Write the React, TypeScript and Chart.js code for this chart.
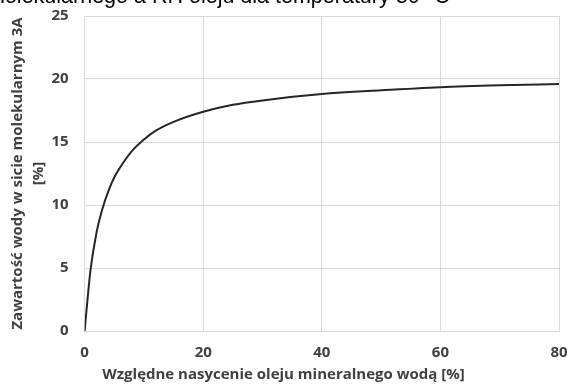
import React, { useEffect, useRef } from 'react';
import { Chart, registerables } from 'chart.js';

Chart.register(...registerables);

// Relative saturation of mineral oil with water [%]
const saturation = [0, 0.5, 1, 2, 3, 4, 5, 6, 8, 10, 12, 15, 20, 25, 30, 40, 50, 60, 70, 80];
// Water content in 3A molecular sieve [%]
const waterContent = [0, 2.6, 4.9, 7.8, 9.7, 11.1, 12.2, 13.0, 14.3, 15.2, 15.9, 16.6, 17.4, 17.95, 18.3, 18.8, 19.1, 19.35, 19.5, 19.6];
const xTicks = [0, 20, 40, 60, 80];
const yTicks = [0, 5, 10, 15, 20, 25];

const chartTitle = 'molekularnego a RH oleju dla temperatury 30 °C';
const xTitle = 'Względne nasycenie oleju mineralnego wodą [%]';
const yTitle = ['Zawartość wody w sicie molekularnym 3A', '[%]'];

const FONT = '"Open Sans", Lato, sans-serif';
const TEXT = '#404040';

export default function App() {
  const ref = useRef<HTMLCanvasElement | null>(null);

  useEffect(() => {
    if (!ref.current) return;
    const chart = new Chart(ref.current, {
      type: 'line',
      data: {
        datasets: [
          {
            data: saturation.map((x, i) => ({ x, y: waterContent[i] })),
            borderColor: '#262626',
            borderWidth: 2,
            pointRadius: 0,
            cubicInterpolationMode: 'monotone',
            fill: false,
          },
        ],
      },
      options: {
        animation: false,
        responsive: false,
        maintainAspectRatio: false,
        layout: { padding: { left: 8, right: 12, top: 16, bottom: 0 } },
        plugins: {
          legend: { display: false },
          tooltip: { enabled: false },
          title: {
            display: true,
            position: 'bottom',
            text: xTitle,
            color: TEXT,
            font: { family: FONT, size: 15, weight: 'bold', lineHeight: 1.2 },
            padding: { top: -9, bottom: 1 },
          },
        },
        scales: {
          x: {
            type: 'linear',
            min: 0,
            max: 80,
            afterBuildTicks: (axis: any) => {
              axis.ticks = xTicks.map((v) => ({ value: v }));
            },
            afterFit: (axis: any) => {
              axis.paddingLeft = 0;
              axis.paddingRight = 0;
            },
            grid: { color: '#d9d9d9', lineWidth: 1, drawTicks: false },
            border: { color: '#d9d9d9' },
            ticks: {
              color: TEXT,
              padding: 13,
              maxRotation: 0,
              font: { family: FONT, size: 15, weight: 'bold', lineHeight: 1.2 },
            },
          },
          y: {
            type: 'linear',
            min: 0,
            max: 25,
            afterBuildTicks: (axis: any) => {
              axis.ticks = yTicks.map((v) => ({ value: v }));
            },
            afterFit: (axis: any) => {
              axis.paddingTop = 0;
              axis.paddingBottom = 0;
            },
            grid: { color: '#d9d9d9', lineWidth: 1, drawTicks: false },
            border: { color: '#d9d9d9' },
            ticks: {
              color: TEXT,
              padding: 16,
              font: { family: FONT, size: 15, weight: 'bold', lineHeight: 1.2 },
            },
            title: {
              display: true,
              text: yTitle,
              color: TEXT,
              font: { family: FONT, size: 15, weight: 'bold', lineHeight: 1.35 },
              padding: { top: 0, bottom: -13 },
            },
          },
        },
      },
    });
    return () => chart.destroy();
  }, []);

  return (
    <div style={{ position: 'fixed', left: 0, top: 0, width: 571, height: 385, background: '#fff', overflow: 'hidden' }}>
      <canvas ref={ref} width={571} height={385} style={{ display: 'block' }} />
      <div
        style={{
          position: 'absolute',
          left: -13,
          top: -16,
          whiteSpace: 'nowrap',
          fontFamily: '"Liberation Sans", Arial, sans-serif',
          fontSize: 21.5,
          color: '#000',
        }}
      >
        {chartTitle}
      </div>
    </div>
  );
}
